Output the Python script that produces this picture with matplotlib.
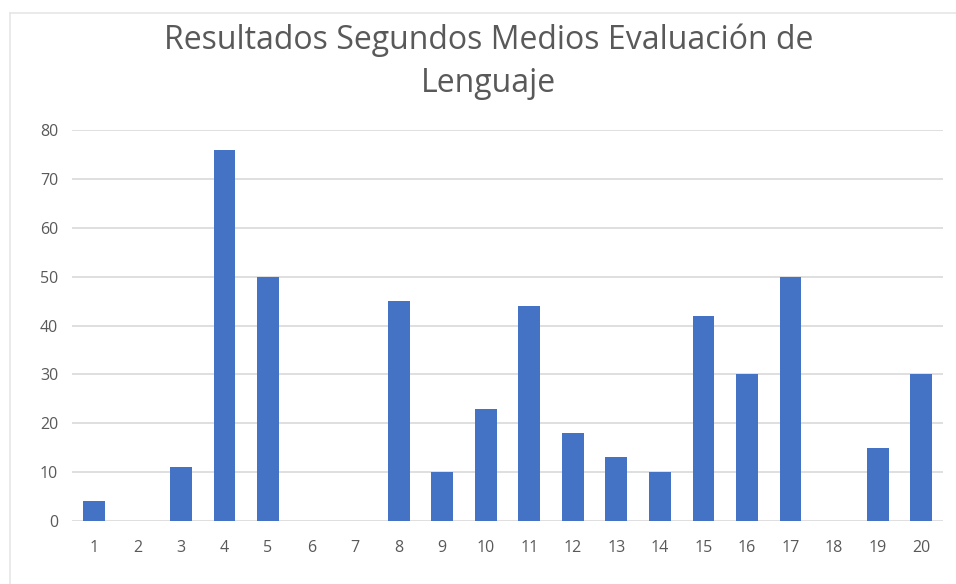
import numpy as np
import matplotlib.pyplot as plt
from matplotlib.lines import Line2D

categorias = [str(i) for i in range(1, 21)]
valores = [4, 0, 11, 76, 50, 0, 0, 45, 10, 23, 44, 18, 13, 10, 42, 30, 50, 0, 15, 30]
yticks = [0, 10, 20, 30, 40, 50, 60, 70, 80]

W, H = 956, 584
fig = plt.figure(figsize=(W / 100, H / 100), dpi=100)
ax = fig.add_axes([72 / W, 1 - 521 / H, (943 - 72) / W, (521 - 130) / H])

x = np.arange(1, len(valores) + 1)
ax.bar(x, valores, width=0.5, color='#4472C4', zorder=3)

ax.set_xlim(0.5, 20.5)
ax.set_ylim(0, 80)
ax.set_xticks(x)
ax.set_xticklabels(categorias)
ax.set_yticks(yticks)
ax.grid(axis='y', color='#d9d9d9', linewidth=1.2, zorder=0)
ax.tick_params(length=0, labelsize=11.5, labelcolor='#595959')
ax.tick_params(axis='x', pad=14)
ax.tick_params(axis='y', pad=10)
for s in ax.spines.values():
    s.set_visible(False)
for lab in ax.get_xticklabels() + ax.get_yticklabels():
    lab.set_fontfamily('Open Sans')

fig.text(0.511, 1 - 40 / H, 'Resultados Segundos Medios Evaluación de', ha='center', va='center',
         fontsize=23, color='#595959', family='Open Sans')
fig.text(0.511, 1 - 84 / H, 'Lenguaje', ha='center', va='center',
         fontsize=23, color='#595959', family='Open Sans')

# borde del área del gráfico
fig.add_artist(Line2D([10 / W, 10 / W], [0, 1 - 13 / H], color='#e6e6e6', lw=1.2))
fig.add_artist(Line2D([10 / W, 1], [1 - 13 / H, 1 - 13 / H], color='#e6e6e6', lw=1.2))

fig.savefig('out.png', dpi=100)
